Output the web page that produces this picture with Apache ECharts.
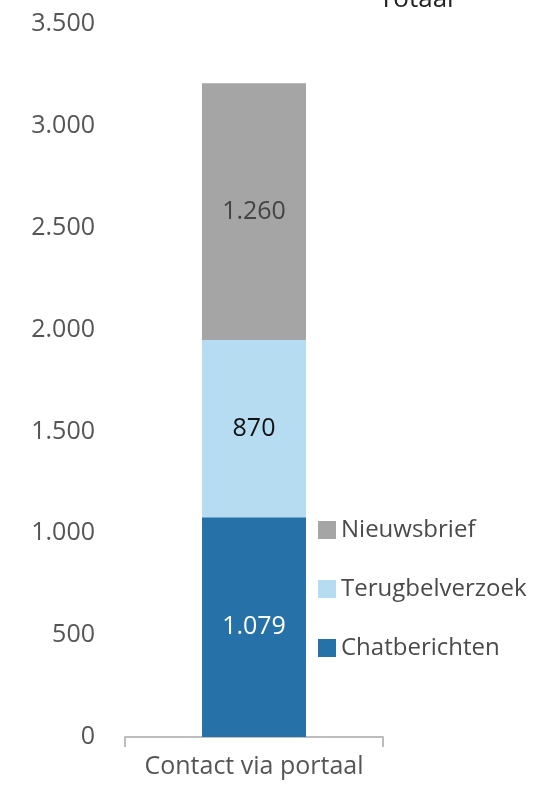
<!DOCTYPE html>
<html>
<head>
<meta charset="utf-8">
<script src="https://cdn.jsdelivr.net/npm/echarts@6/dist/echarts.min.js"></script>
<style>
  html, body { margin: 0; padding: 0; background: #fff; }
  #chart { width: 551px; height: 788px; }
</style>
</head>
<body>
<div id="chart"></div>
<script>
const categories = ['Contact via portaal'];
const chatberichten = [1079];
const terugbelverzoek = [870];
const nieuwsbrief = [1260];
const yTicks = [0, 500, 1000, 1500, 2000, 2500, 3000, 3500];

const FONT = 'Open Sans';
const fmt = v => String(v).replace(/\B(?=(\d{3})+(?!\d))/g, '.');

const chart = echarts.init(document.getElementById('chart'));

function barSeries(name, data, color, labelColor) {
    return {
        name: name,
        type: 'bar',
        stack: 'total',
        barWidth: 104,
        data: data,
        itemStyle: { color: color },
        label: {
            show: true,
            position: 'inside',
            color: labelColor,
            fontFamily: FONT,
            fontSize: 25,
            formatter: p => fmt(p.value)
        }
    };
}

const option = {
    animation: false,
    backgroundColor: '#fff',
    title: {
        text: 'Totaal',
        left: 374,
        top: -18,
        textStyle: { fontFamily: FONT, fontSize: 26, fontWeight: 'normal', color: '#222' }
    },
    grid: { left: 125, right: 168, top: 24, bottom: 51 },
    legend: {
        orient: 'vertical',
        left: 313,
        top: 513,
        itemWidth: 18,
        itemHeight: 18,
        itemGap: 35,
        icon: 'rect',
        data: ['Nieuwsbrief', 'Terugbelverzoek', 'Chatberichten'],
        textStyle: { fontFamily: FONT, fontSize: 24, color: '#4a4a4a' }
    },
    xAxis: {
        type: 'category',
        data: categories,
        axisLine: { lineStyle: { color: '#bdbdbd', width: 2 } },
        axisTick: { show: true, length: 10, lineStyle: { color: '#bdbdbd', width: 2 } },
        axisLabel: { margin: 17, fontFamily: FONT, fontSize: 25, color: '#555' }
    },
    yAxis: {
        type: 'value',
        min: yTicks[0],
        max: yTicks[yTicks.length - 1],
        interval: yTicks[1] - yTicks[0],
        axisLine: { show: false },
        axisTick: { show: false },
        splitLine: { show: false },
        axisLabel: {
            margin: 30,
            fontFamily: FONT,
            fontSize: 25,
            color: '#555',
            formatter: v => fmt(v)
        }
    },
    series: [
        barSeries('Chatberichten', chatberichten, '#2672a8', '#fff'),
        barSeries('Terugbelverzoek', terugbelverzoek, '#b5dcf1', '#111'),
        barSeries('Nieuwsbrief', nieuwsbrief, '#a5a5a5', '#444')
    ]
};

chart.setOption(option);
</script>
</body>
</html>
